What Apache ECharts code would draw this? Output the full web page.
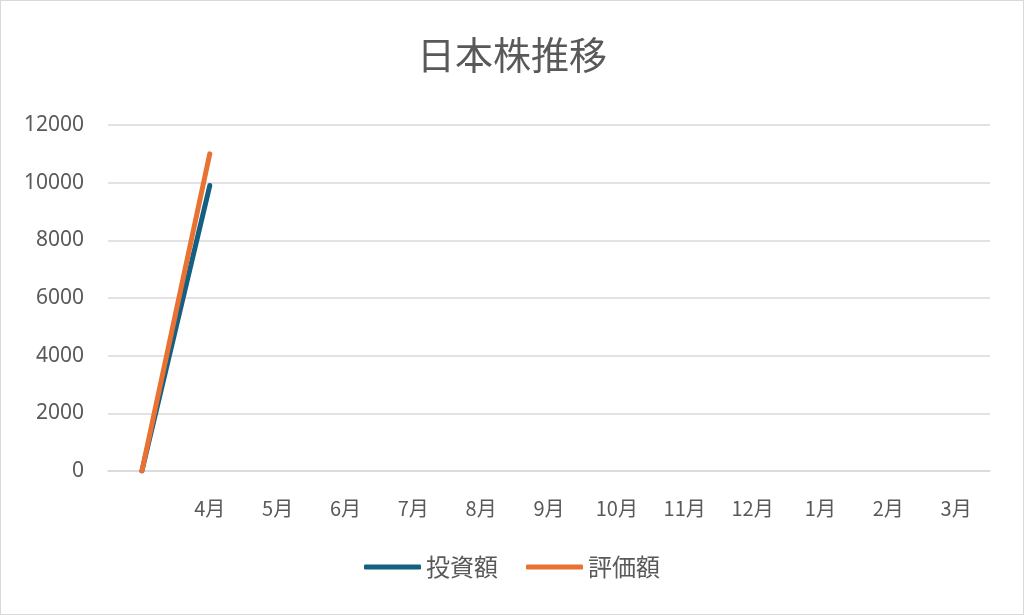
<!DOCTYPE html>
<html><head><meta charset="utf-8">
<script src="https://cdn.jsdelivr.net/npm/echarts@6/dist/echarts.min.js"></script>
<style>html,body{margin:0;padding:0;background:#fff;}#c{width:1024px;height:615px;box-sizing:border-box;border:1px solid #d9d9d9;}</style>
</head><body><div id="c"></div>
<script>
const categories = ['', '4月', '5月', '6月', '7月', '8月', '9月', '10月', '11月', '12月', '1月', '2月', '3月'];
const investment = [0, 9900];
const valuation = [0, 11000];
const yTicks = [0, 2000, 4000, 6000, 8000, 10000, 12000];

const chart = echarts.init(document.getElementById('c'));
const font = '"Noto Sans CJK JP", "Noto Sans", sans-serif';
chart.setOption({
  animation: false,
  textStyle: { fontFamily: font },
  title: {
    text: '日本株推移', left: 'center', top: 30,
    textStyle: { fontSize: 38, fontWeight: 'normal', color: '#595959', fontFamily: font }
  },
  legend: {
    bottom: 30, left: 'center', itemWidth: 57, itemHeight: 5, itemGap: 28,
    icon: 'roundRect',
    textStyle: { fontSize: 24, color: '#595959', fontFamily: font },
    data: ['投資額', '評価額']
  },
  grid: { left: 107, right: 33, top: 124, bottom: 143, containLabel: false },
  xAxis: {
    type: 'category', data: categories, boundaryGap: true,
    axisLine: { show: true, lineStyle: { color: '#d9d9d9', width: 1.5 } },
    axisTick: { show: false },
    axisLabel: { fontSize: 20, color: '#595959', margin: 27, fontFamily: font }
  },
  yAxis: {
    type: 'value', min: 0, max: 12000, interval: 2000,
    axisLine: { show: false }, axisTick: { show: false },
    axisLabel: { fontSize: 21, color: '#595959', margin: 24, fontFamily: '"Noto Sans", sans-serif',
      formatter: v => yTicks.includes(v) ? String(v) : '' },
    splitLine: { lineStyle: { color: '#d9d9d9', width: 1.5 } }
  },
  series: [
    { name: '投資額', type: 'line', data: investment, showSymbol: false, symbol: 'none',
      color: '#156082', lineStyle: { width: 5, color: '#156082', cap: 'round' } },
    { name: '評価額', type: 'line', data: valuation, showSymbol: false, symbol: 'none',
      color: '#E97132', lineStyle: { width: 5, color: '#E97132', cap: 'round' } }
  ]
});
</script></body></html>
